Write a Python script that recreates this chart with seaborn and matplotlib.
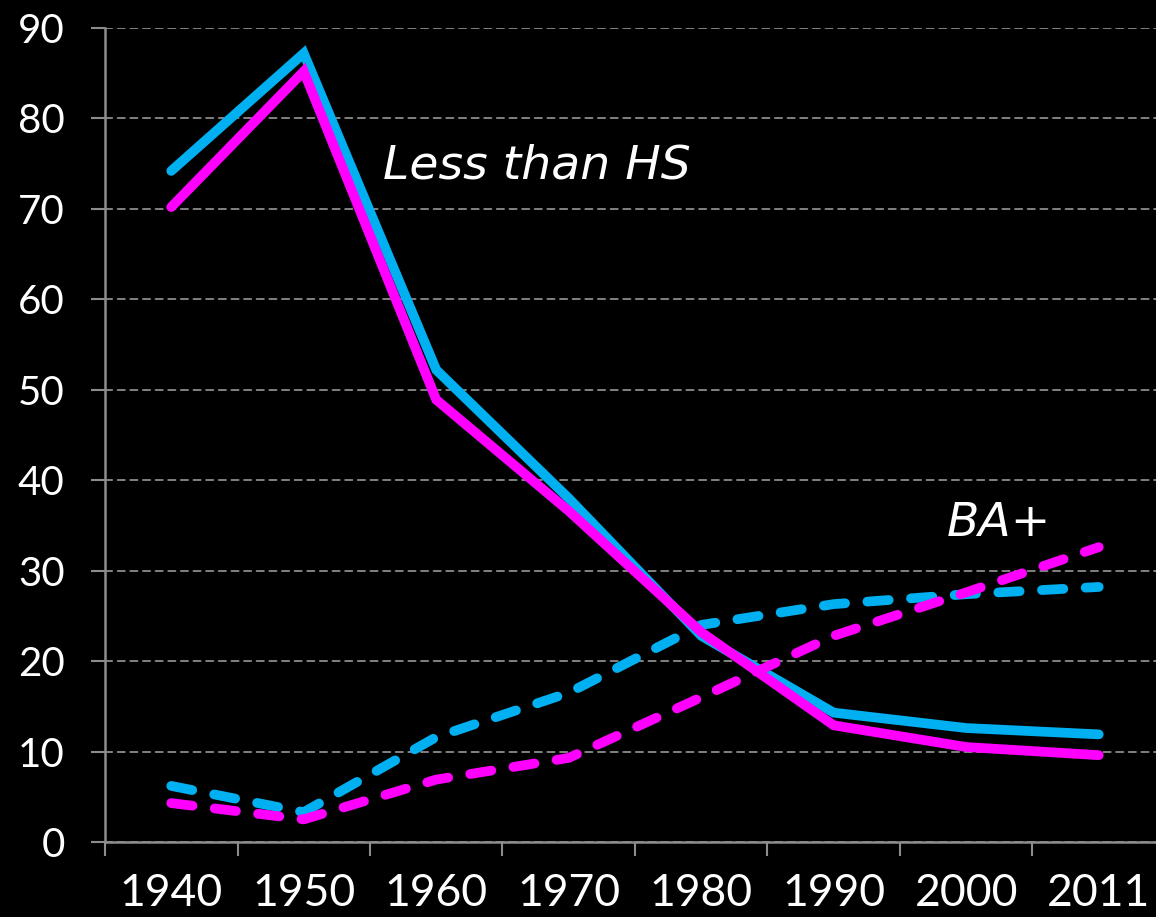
import matplotlib
matplotlib.use("Agg")
import matplotlib.pyplot as plt
import pandas as pd
import seaborn as sns

YEARS = ["1940", "1950", "1960", "1970", "1980", "1990", "2000", "2011"]

# share of people by schooling, two groups (cyan / magenta)
LESS_HS_CYAN = [74.2, 87.2, 52.2, 38.0, 22.8, 14.3, 12.6, 11.9]
LESS_HS_MAGENTA = [70.2, 85.2, 48.9, 36.6, 23.2, 12.9, 10.5, 9.6]
BA_CYAN = [6.2, 3.3, 11.6, 16.5, 24.0, 26.3, 27.4, 28.2]
BA_MAGENTA = [4.3, 2.5, 6.9, 9.3, 16.0, 22.8, 27.6, 32.6]

CYAN = "#00B0F0"
MAGENTA = "#FF00FF"

rows = []
for vals, grp, edu in [
    (LESS_HS_CYAN, "cyan", "Less than HS"),
    (LESS_HS_MAGENTA, "magenta", "Less than HS"),
    (BA_CYAN, "cyan", "BA+"),
    (BA_MAGENTA, "magenta", "BA+"),
]:
    for year, v in zip(YEARS, vals):
        rows.append({"year": year, "value": v, "group": grp, "edu": edu})
df = pd.DataFrame(rows)

sns.set_style("dark")
plt.rcParams["font.family"] = ["Lato", "DejaVu Sans"]
plt.rcParams["lines.solid_capstyle"] = "round"
plt.rcParams["lines.dash_capstyle"] = "round"
plt.rcParams["lines.solid_joinstyle"] = "miter"

fig = plt.figure(figsize=(11.56, 9.17), dpi=100, facecolor="black")
ax = fig.add_axes([105 / 1156, 75 / 917, 1060 / 1156, 814 / 917])
ax.set_facecolor("black")

sns.lineplot(
    data=df, x="year", y="value", hue="group", style="edu",
    palette={"cyan": CYAN, "magenta": MAGENTA},
    dashes={"Less than HS": "", "BA+": (2.2, 2.3)},
    hue_order=["cyan", "magenta"], style_order=["Less than HS", "BA+"],
    linewidth=7, legend=False, ax=ax, sort=False,
)

ax.set_xlim(-0.5, len(YEARS) - 0.5)
ax.set_ylim(0, 90)
ax.set_yticks(range(0, 91, 10))
ax.set_xticks(range(len(YEARS)))
ax.set_xticklabels(YEARS)
ax.set_xticks([i - 0.5 for i in range(len(YEARS))], minor=True)
ax.set_xlabel("")
ax.set_ylabel("")

ax.grid(False)
ax.yaxis.grid(True, color="#8c8c8c", linestyle=(0, (4, 3)), linewidth=1.3)
ax.set_axisbelow(True)

for s in ["top", "right"]:
    ax.spines[s].set_visible(False)
for s in ["left", "bottom"]:
    ax.spines[s].set_visible(True)
    ax.spines[s].set_color("#8c8c8c")
    ax.spines[s].set_linewidth(1.8)

ax.tick_params(axis="y", which="major", length=10, width=1.5, color="#8c8c8c",
               direction="out", left=True, labelsize=29, labelcolor="white", pad=19)
ax.tick_params(axis="x", which="major", length=0, labelsize=32,
               labelcolor="white", pad=22)
ax.tick_params(axis="x", which="minor", length=10, width=1.5,
               color="#8c8c8c", direction="out", bottom=True)

ax.text(1.6, 73.4, "Less than HS", color="white", fontsize=34,
        family="DejaVu Sans", style="italic", ha="left", va="baseline")
ax.text(5.85, 33.8, "BA+", color="white", fontsize=34,
        family="DejaVu Sans", style="italic", ha="left", va="baseline")

fig.savefig("out.png", dpi=100, facecolor="black")
